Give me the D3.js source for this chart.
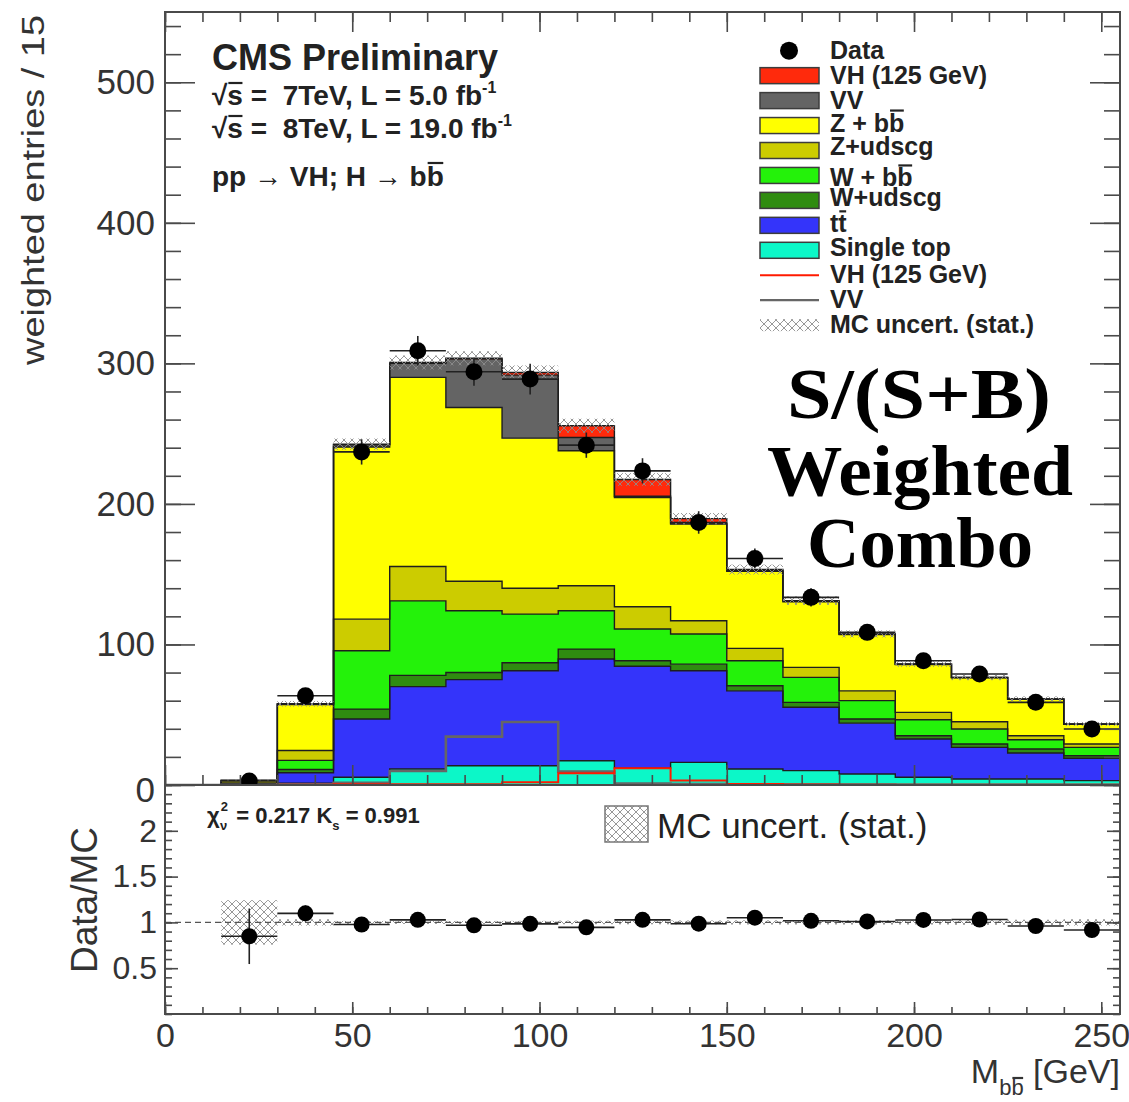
<!DOCTYPE html>
<html>
<head>
<meta charset="utf-8">
<script src="https://cdn.jsdelivr.net/npm/d3@7"></script>
<style>
  html, body { margin: 0; padding: 0; background: #fff; }
  svg { display: block; }
  text { font-family: "Liberation Sans", Arial, Helvetica, sans-serif; }
  text.serif { font-family: "Liberation Serif", "Times New Roman", serif; }
</style>
</head>
<body>
<svg id="chart" width="1129" height="1102"></svg>
<script>
// ---- histogram binning: M(bb) in 15 GeV bins ----
const binEdges = [0, 15, 30, 45, 60, 75, 90, 105, 120, 135, 150, 165, 180, 195, 210, 225, 240, 255];

// ---- weighted entries per bin, stacked from the bottom up ----
const singleTop = [0, 0, 1.2, 5.5, 11.4, 13.7, 13.7, 17.3, 12.0, 16.1, 11.4, 10.2, 7.8, 5.5, 4.3, 4.3, 3.1];
const ttbar     = [0, 0.5, 7.5, 41.5, 58.6, 61.3, 67.6, 72.3, 72.5, 65.2, 55.6, 45.1, 36.2, 27.2, 22.5, 18.5, 15.9];
const wUdscg    = [0, 0.1, 2.3, 7.0, 8.0, 5.0, 5.7, 7.1, 3.9, 4.7, 3.6, 3.5, 3.0, 2.3, 2.4, 2.8, 1.8];
const wBb       = [0, 0.3, 6.5, 41.5, 53.0, 44.0, 34.6, 27.3, 22.6, 21.4, 17.8, 17.8, 13.0, 11.4, 10.6, 6.6, 6.0];
const zUdscg    = [0, 0.5, 7.1, 22.5, 24.5, 21.0, 18.4, 17.8, 15.8, 9.5, 8.8, 7.1, 7.0, 5.3, 5.2, 2.8, 2.4];
const zBb       = [0, 1.8, 32.6, 122.5, 134.5, 123.6, 106.8, 96.0, 77.7, 68.7, 54.8, 46.7, 40.0, 34.0, 31.3, 26.0, 14.0];
const diboson   = [0, 0.1, 0.5, 1.5, 10.0, 34.4, 44.8, 9.5, 1.0, 0.7, 0.5, 0.4, 0.3, 0.2, 0.2, 0.1, 0.1];
const vhSignal  = [0, 0, 0.1, 0.5, 0.6, 0.6, 1.9, 8.3, 11.9, 3.2, 0.8, 0.4, 0.2, 0.2, 0.1, 0.1, 0.1];

// ---- observed data and uncertainties ----
const dataCounts   = [null, 2.8, 63.5, 237, 309, 294, 288.8, 241.8, 223.5, 186.8, 161.2, 133.5, 108.6, 88.4, 79, 58.8, 39.8];
const dataErrors   = [0, 1.0, 5, 9, 10.5, 10, 11, 9, 9, 8, 7, 6.5, 5.5, 5, 4.5, 4, 3.5];
const mcStatErrors = [0, 0.8, 2.0, 4.0, 5.0, 5.0, 5.0, 5.0, 4.5, 4.0, 3.5, 3.0, 2.5, 2.0, 2.0, 1.8, 1.5];

// ---- axis ticks ----
const xTickValues = [0, 50, 100, 150, 200, 250];
const yTickValues = [0, 100, 200, 300, 400, 500];
const ratioTickValues = [0.5, 1, 1.5, 2];

// ---- colours ----
const colors = {
  vh: "#ff2a0c", vv: "#646464", zbb: "#ffff00", zudscg: "#cccc00",
  wbb: "#24f20a", wudscg: "#2f8c10", tt: "#3434fa", st: "#0cf7c8"
};

const svg = d3.select("#chart");
const FL = 165, FR = 1120, FT = 12, FM = 785, FB = 1014;

const x  = d3.scaleLinear().domain([0, 255]).range([FL, FR]);
const y  = d3.scaleLinear().domain([0, 550]).range([FM, FT]);
const yr = d3.scaleLinear().domain([0, 2.5]).range([FB, FM]);

const defs = svg.append("defs");
const pat = defs.append("pattern").attr("id", "hatch")
  .attr("patternUnits", "userSpaceOnUse").attr("width", 8).attr("height", 8);
pat.append("path").attr("d", "M0,0L8,8M8,0L0,8M-1,7L1,9M7,-1L9,1")
  .attr("stroke", "#8c8c8c").attr("stroke-width", 0.9).attr("fill", "none");
defs.append("clipPath").attr("id", "clipMain").append("rect")
  .attr("x", FL).attr("y", FT).attr("width", FR - FL).attr("height", FM - FT);
defs.append("clipPath").attr("id", "clipRatio").append("rect")
  .attr("x", FL).attr("y", FM).attr("width", FR - FL).attr("height", FB - FM);

// ---- stack ----
const layers = [
  { key: "st", values: singleTop },
  { key: "tt", values: ttbar },
  { key: "wudscg", values: wUdscg },
  { key: "wbb", values: wBb },
  { key: "zudscg", values: zUdscg },
  { key: "zbb", values: zBb },
  { key: "vv", values: diboson },
  { key: "vh", values: vhSignal }
];
let cum = binEdges.slice(0, -1).map(() => 0);
layers.forEach(l => {
  l.lo = cum.slice();
  cum = cum.map((c, i) => c + l.values[i]);
  l.hi = cum.slice();
});
const mcTotal = cum;

function stepRows(lo, hi) {
  const n = lo.length;
  const rows = binEdges.slice(0, -1).map((e, i) => ({ x: e, lo: lo[i], hi: hi[i] }));
  rows.push({ x: binEdges[n], lo: lo[n - 1], hi: hi[n - 1] });
  return rows;
}

const main = svg.append("g").attr("clip-path", "url(#clipMain)");
const area = d3.area().x(d => x(d.x)).y0(d => y(d.lo)).y1(d => y(d.hi)).curve(d3.curveStepAfter);
const topLine = d3.line().x(d => x(d.x)).y(d => y(d.hi)).curve(d3.curveStepAfter);

layers.forEach(l => {
  main.append("path").datum(stepRows(l.lo, l.hi))
    .attr("d", area).attr("fill", colors[l.key]).attr("stroke", "none");
});
layers.forEach(l => {
  main.append("path").datum(stepRows(l.lo, l.hi))
    .attr("d", topLine).attr("fill", "none").attr("stroke", "#1e1e1e").attr("stroke-width", 1.4);
});

// unstacked VV and VH shapes
const zeros = binEdges.slice(0, -1).map(() => 0);
main.append("path").datum(stepRows(zeros, diboson))
  .attr("d", topLine).attr("fill", "none").attr("stroke", "#666").attr("stroke-width", 2.6);
main.append("path").datum(stepRows(zeros, vhSignal))
  .attr("d", topLine).attr("fill", "none").attr("stroke", "#ff1a00").attr("stroke-width", 2);

// MC statistical uncertainty band
const bins = binEdges.slice(0, -1).map((e, i) => ({
  lo: e, hi: binEdges[i + 1], c: (e + binEdges[i + 1]) / 2,
  mc: mcTotal[i], mcErr: mcStatErrors[i], data: dataCounts[i], dErr: dataErrors[i]
}));
main.selectAll("rect.unc").data(bins.filter(b => b.mc > 0)).join("rect")
  .attr("x", b => x(b.lo)).attr("width", b => x(b.hi) - x(b.lo))
  .attr("y", b => y(b.mc + b.mcErr)).attr("height", b => y(b.mc - b.mcErr) - y(b.mc + b.mcErr))
  .attr("fill", "url(#hatch)");

// data points
const dataBins = bins.filter(b => b.data !== null);
const dg = svg.append("g").attr("clip-path", "url(#clipMain)");
dg.selectAll("line.h").data(dataBins).join("line")
  .attr("x1", b => x(b.lo)).attr("x2", b => x(b.hi))
  .attr("y1", b => y(b.data)).attr("y2", b => y(b.data))
  .attr("stroke", "#222").attr("stroke-width", 1.6);
dg.selectAll("line.v").data(dataBins).join("line")
  .attr("x1", b => x(b.c)).attr("x2", b => x(b.c))
  .attr("y1", b => y(b.data - b.dErr)).attr("y2", b => y(b.data + b.dErr))
  .attr("stroke", "#222").attr("stroke-width", 1.6);
dg.selectAll("circle").data(dataBins).join("circle")
  .attr("cx", b => x(b.c)).attr("cy", b => y(b.data)).attr("r", 8.5).attr("fill", "#000");

// ---- ratio panel ----
const rg = svg.append("g").attr("clip-path", "url(#clipRatio)");
rg.selectAll("rect.unc").data(bins.filter(b => b.mc > 0)).join("rect")
  .attr("x", b => x(b.lo)).attr("width", b => x(b.hi) - x(b.lo))
  .attr("y", b => yr(1 + b.mcErr / b.mc))
  .attr("height", b => Math.max(yr(1 - b.mcErr / b.mc) - yr(1 + b.mcErr / b.mc), 2))
  .attr("fill", "url(#hatch)");
rg.append("line").attr("x1", FL).attr("x2", FR).attr("y1", yr(1)).attr("y2", yr(1))
  .attr("stroke", "#555").attr("stroke-width", 1.3).attr("stroke-dasharray", "6,4");
const ratioBins = dataBins.map(b => ({ ...b, r: b.data / b.mc, rErr: b.dErr / b.mc }));
rg.selectAll("line.h").data(ratioBins).join("line")
  .attr("x1", b => x(b.lo)).attr("x2", b => x(b.hi))
  .attr("y1", b => yr(b.r)).attr("y2", b => yr(b.r))
  .attr("stroke", "#222").attr("stroke-width", 1.6);
rg.selectAll("line.v").data(ratioBins).join("line")
  .attr("x1", b => x(b.c)).attr("x2", b => x(b.c))
  .attr("y1", b => yr(b.r - b.rErr)).attr("y2", b => yr(b.r + b.rErr))
  .attr("stroke", "#222").attr("stroke-width", 1.6);
rg.selectAll("circle").data(ratioBins).join("circle")
  .attr("cx", b => x(b.c)).attr("cy", b => yr(b.r)).attr("r", 8).attr("fill", "#000");

// ---- axes ----
function styleAxis(g, fontSize) {
  g.select(".domain").remove();
  g.attr("font-size", fontSize || 34);
  g.selectAll(".tick line").attr("stroke", "#4a4a4a").attr("stroke-width", 1.6);
  g.selectAll(".tick text").attr("fill", "#333");
}
function axisAt(gen, tx, ty, fontSize) {
  const g = svg.append("g").attr("transform", `translate(${tx},${ty})`).call(gen);
  styleAxis(g, fontSize);
  return g;
}
const noLabel = () => "";
// main pad, left / right
axisAt(d3.axisLeft(y).tickValues(d3.range(0, 551, 20)).tickSize(-16).tickFormat(noLabel), FL, 0);
const yLab = axisAt(d3.axisLeft(y).tickValues(yTickValues).tickSize(-30).tickPadding(10).tickFormat(d3.format("d")), FL, 0, 35);
yLab.selectAll(".tick").filter(d => d === 0).select("text").attr("y", 5);
axisAt(d3.axisRight(y).tickValues(d3.range(0, 551, 20)).tickSize(-16).tickFormat(noLabel), FR, 0);
axisAt(d3.axisRight(y).tickValues(yTickValues).tickSize(-30).tickFormat(noLabel), FR, 0);
// main pad, top / bottom
axisAt(d3.axisTop(x).tickValues(d3.range(0, 256, 10)).tickSize(-10).tickFormat(noLabel), 0, FT);
axisAt(d3.axisTop(x).tickValues(xTickValues).tickSize(-20).tickFormat(noLabel), 0, FT);
axisAt(d3.axisBottom(x).tickValues(d3.range(0, 256, 10)).tickSize(-10).tickFormat(noLabel), 0, FM);
axisAt(d3.axisBottom(x).tickValues(xTickValues).tickSize(-20).tickFormat(noLabel), 0, FM);
// ratio pad
axisAt(d3.axisLeft(yr).tickValues(d3.range(0, 2.51, 0.1)).tickSize(-7).tickFormat(noLabel), FL, 0);
axisAt(d3.axisLeft(yr).tickValues(ratioTickValues).tickSize(-13).tickPadding(8).tickFormat(d3.format("")), FL, 0, 32);
axisAt(d3.axisRight(yr).tickValues(d3.range(0, 2.51, 0.1)).tickSize(-7).tickFormat(noLabel), FR, 0);
axisAt(d3.axisRight(yr).tickValues(ratioTickValues).tickSize(-13).tickFormat(noLabel), FR, 0);
axisAt(d3.axisBottom(x).tickValues(d3.range(0, 256, 10)).tickSize(-7).tickFormat(noLabel), 0, FB);
axisAt(d3.axisBottom(x).tickValues(xTickValues).tickSize(-12).tickPadding(9).tickFormat(d3.format("d")), 0, FB, 34);

// frames
svg.append("rect").attr("x", FL).attr("y", FT).attr("width", FR - FL).attr("height", FM - FT)
  .attr("fill", "none").attr("stroke", "#4a4a4a").attr("stroke-width", 2);
svg.append("rect").attr("x", FL).attr("y", FM).attr("width", FR - FL).attr("height", FB - FM)
  .attr("fill", "none").attr("stroke", "#4a4a4a").attr("stroke-width", 2);

// ---- text helpers ----
function overline(textSel, idx, lift, width) {
  const node = textSel.node();
  const s = node.getStartPositionOfChar(idx), e = node.getEndPositionOfChar(idx);
  d3.select(node.parentNode).append("line")
    .attr("x1", s.x + 1).attr("x2", e.x - 0.5)
    .attr("y1", s.y - lift).attr("y2", s.y - lift)
    .attr("stroke", textSel.attr("fill") || "#222").attr("stroke-width", width || 2.2)
    .attr("transform", textSel.attr("transform"));
}

// axis titles
svg.append("text").attr("transform", "translate(44,15) rotate(-90)")
  .attr("text-anchor", "end").attr("font-size", 31).attr("fill", "#333")
  .attr("textLength", 350).attr("lengthAdjust", "spacingAndGlyphs")
  .text("weighted entries / 15");
svg.append("text").attr("transform", "translate(97,900) rotate(-90)")
  .attr("text-anchor", "middle").attr("font-size", 36).attr("fill", "#333")
  .attr("textLength", 146).attr("lengthAdjust", "spacingAndGlyphs")
  .text("Data/MC");
const xt = svg.append("text").attr("x", FR).attr("y", 1083).attr("text-anchor", "end")
  .attr("font-size", 34).attr("fill", "#333");
xt.append("tspan").text("M");
xt.append("tspan").attr("font-size", 22).attr("dy", 12).text("bb");
xt.append("tspan").attr("dy", -12).text(" [GeV]");
overline(xt, 2, 17);

// header text
const hdr = svg.append("g");
hdr.append("text").attr("x", 212).attr("y", 70).attr("font-size", 36).attr("font-weight", "bold")
  .attr("fill", "#222").text("CMS Preliminary");
function lumiLine(yPos, label) {
  const t = hdr.append("text").attr("x", 212).attr("y", yPos).attr("font-size", 28)
    .attr("font-weight", "bold").attr("fill", "#222").style("white-space", "pre");
  t.append("tspan").text("√s =  " + label);
  t.append("tspan").attr("font-size", 16).attr("dy", -12).text("-1");
  overline(t, 1, 22);
  return t;
}
lumiLine(105, "7TeV, L = 5.0 fb");
lumiLine(138, "8TeV, L = 19.0 fb");
const proc = hdr.append("text").attr("x", 212).attr("y", 186).attr("font-size", 28)
  .attr("font-weight", "bold").attr("fill", "#222").text("pp → VH; H → bb");
overline(proc, 14, 23);

// legend
const legendEntries = [
  { label: "Data", kind: "marker" },
  { label: "VH (125 GeV)", kind: "box", color: colors.vh },
  { label: "VV", kind: "box", color: colors.vv },
  { label: "Z + bb", kind: "box", color: colors.zbb, bar: 5, shift: 6 },
  { label: "Z+udscg", kind: "box", color: colors.zudscg, shift: 4 },
  { label: "W + bb", kind: "box", color: colors.wbb, bar: 5, shift: 11 },
  { label: "W+udscg", kind: "box", color: colors.wudscg, shift: 6 },
  { label: "tt", kind: "box", color: colors.tt, bar: 1, shift: 7 },
  { label: "Single top", kind: "box", color: colors.st, shift: 6 },
  { label: "VH (125 GeV)", kind: "line", color: "#ff1a00" },
  { label: "VV", kind: "line", color: "#666" },
  { label: "MC uncert. (stat.)", kind: "hatch" }
];
const lg = svg.append("g");
legendEntries.forEach((d, i) => {
  const cy = 50.7 + i * 24.95;
  if (d.kind === "marker") {
    lg.append("circle").attr("cx", 789).attr("cy", cy).attr("r", 9).attr("fill", "#000");
  } else if (d.kind === "box") {
    lg.append("rect").attr("x", 760).attr("y", cy - 8).attr("width", 59).attr("height", 16)
      .attr("fill", d.color).attr("stroke", "#3c3c3c").attr("stroke-width", 1.5);
  } else if (d.kind === "line") {
    lg.append("line").attr("x1", 760).attr("x2", 819).attr("y1", cy).attr("y2", cy)
      .attr("stroke", d.color).attr("stroke-width", 2.2);
  } else {
    lg.append("rect").attr("x", 760).attr("y", cy - 6).attr("width", 59).attr("height", 12)
      .attr("fill", "url(#hatch)");
  }
  const t = lg.append("text").attr("x", 830).attr("y", cy + (d.shift !== undefined ? d.shift : 8))
    .attr("font-size", 25).attr("font-weight", "bold").attr("fill", "#222").text(d.label);
  if (d.bar !== undefined) overline(t, d.bar, 21);
});

// ratio annotations
const chi = svg.append("text").attr("x", 207).attr("y", 823).attr("font-size", 22)
  .attr("font-weight", "bold").attr("fill", "#222");
chi.append("tspan").text("χ");
chi.append("tspan").attr("font-size", 13).attr("dy", -12).attr("dx", 1).text("2");
chi.append("tspan").attr("font-size", 13).attr("dy", 19).attr("dx", -8).text("ν");
chi.append("tspan").attr("dy", -7).attr("dx", 3).text(" = 0.217 K");
chi.append("tspan").attr("font-size", 13).attr("dy", 7).text("s");
chi.append("tspan").attr("dy", -7).text(" = 0.991");

svg.append("rect").attr("x", 605).attr("y", 806).attr("width", 43).attr("height", 36)
  .attr("fill", "url(#hatch)").attr("stroke", "#777").attr("stroke-width", 1.5);
svg.append("text").attr("x", 657).attr("y", 838).attr("font-size", 35).attr("fill", "#222")
  .text("MC uncert. (stat.)");

// weighting note
const note = svg.append("g").attr("font-weight", "bold").attr("font-size", 72)
  .attr("fill", "#000").attr("text-anchor", "middle");
[["S/(S+B)", 919, 418, 264], ["Weighted", 920, 495, 306], ["Combo", 920, 567, 226]].forEach(([txt, tx, ty, len]) => {
  note.append("text").attr("class", "serif").attr("x", tx).attr("y", ty)
    .attr("textLength", len).attr("lengthAdjust", "spacingAndGlyphs").text(txt);
});
</script>
</body>
</html>
